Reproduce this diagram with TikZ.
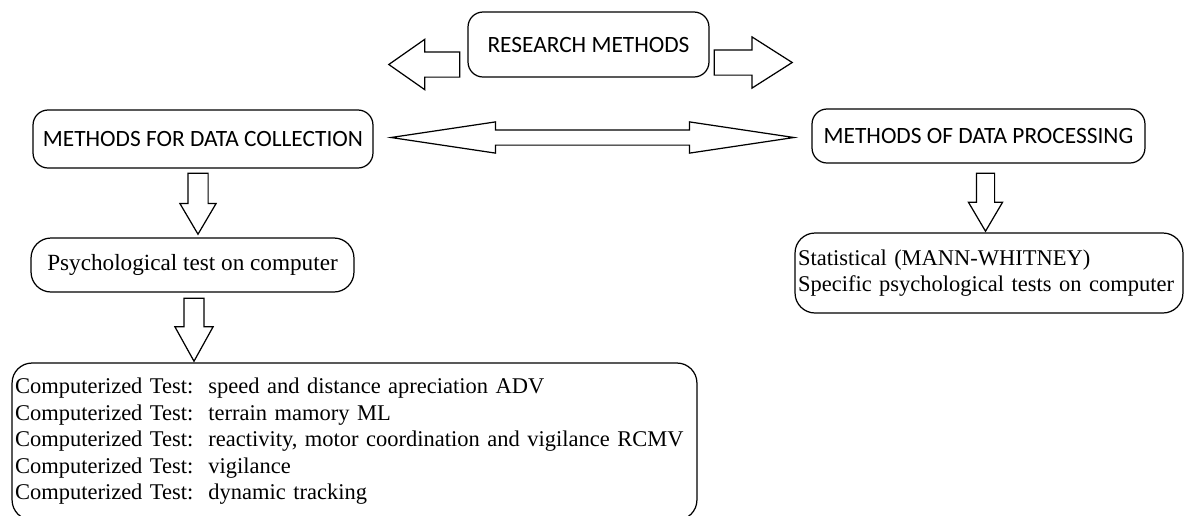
\documentclass[tikz,border=0pt]{standalone}
\usepackage{fontspec}
\setmainfont{Liberation Serif}
\newfontfamily\capsfont{Carlito}
\usetikzlibrary{shapes.arrows, positioning, calc}

\begin{document}
\begin{tikzpicture}[
    x=0.02cm, y=-0.02cm,
    method/.style={rectangle, draw, line width=0.7pt, rounded corners=0.3cm, text centered, font=\capsfont\fontsize{13.3}{15}\selectfont},
    listbox/.style={rectangle, draw, line width=0.7pt, rounded corners=0.4cm, align=left, inner xsep=0.06cm, font=\fontsize{12.8}{15.1}\selectfont},
    hollow/.style={single arrow, draw, line width=0.7pt, anchor=tail},
    hollowdouble/.style={double arrow, draw, line width=0.7pt}
]
\useasboundingbox (0,0) rectangle (1184,515);

% Top level
\node[method, minimum width=4.82cm, minimum height=1.3cm] (research) at (588.5,44.5) {RESEARCH METHODS};

% Two branches
\node[method, minimum width=6.8cm, minimum height=1.16cm] (collect) at (203,139) {METHODS FOR DATA COLLECTION};
\node[method, minimum width=6.66cm, minimum height=1.08cm] (process) at (978.5,136) {METHODS OF DATA PROCESSING};

% Collection side
\node[listbox, minimum width=6.46cm, minimum height=1.08cm, align=center, font=\fontsize{13.2}{15}\selectfont] (psych) at (192.5,265) {Psychological test on computer};
\node[listbox, text width=13.58cm, minimum height=3.14cm] (tests) at (354.5,441.5) {Computerized Test:\ \ speed and distance apreciation ADV\\
Computerized Test:\ \ terrain mamory ML\\
Computerized Test:\ \ reactivity, motor coordination and vigilance RCMV\\
Computerized Test:\ \ vigilance\\
Computerized Test:\ \ dynamic tracking};

% Processing side
\node[listbox, text width=7.64cm, minimum height=1.6cm] (stats) at (989,273) {Statistical (MANN-WHITNEY)\\
Specific psychological tests on computer};

% Block arrows
\node[hollow, rotate=180, inner sep=0.24cm, minimum height=1.42cm, minimum width=0.98cm,
      single arrow head extend=0.25cm, single arrow tip angle=70] (toleft) at ($(research.west)+(-7,20)$) {};
\node[hollow, inner sep=0.24cm, minimum height=1.56cm, minimum width=1cm,
      single arrow head extend=0.26cm, single arrow tip angle=65] (toright) at ($(research.east)+(4,18)$) {};
\node[hollowdouble, inner sep=0.14cm, minimum height=8.06cm, minimum width=0.6cm,
      double arrow head extend=0.16cm, double arrow tip angle=17] (link) at ($(collect.east)!0.5!(process.west)$) {};
\node[hollow, rotate=-90, inner sep=0.19cm, minimum height=1.22cm, minimum width=0.7cm,
      single arrow head extend=0.16cm, single arrow tip angle=61] (down1) at ($(collect.south)+(-5,4)$) {};
\node[hollow, rotate=-90, inner sep=0.19cm, minimum height=1.26cm, minimum width=0.74cm,
      single arrow head extend=0.18cm, single arrow tip angle=58] (down2) at ($(psych.south)+(1.5,5)$) {};
\node[hollow, rotate=-90, inner sep=0.17cm, minimum height=1.16cm, minimum width=0.66cm,
      single arrow head extend=0.16cm, single arrow tip angle=61] (down3) at ($(process.south)+(7,9)$) {};

\end{tikzpicture}
\end{document}
